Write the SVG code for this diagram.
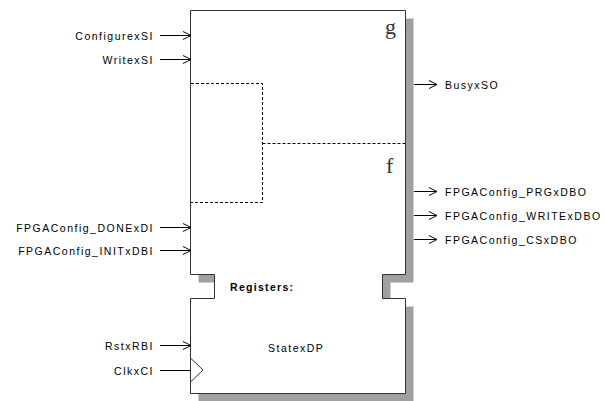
<svg xmlns="http://www.w3.org/2000/svg" width="605" height="401" viewBox="0 0 605 401">
<defs>
<style>
.lbl{font-family:"Liberation Sans",Arial,sans-serif;font-size:10.5px;letter-spacing:1.5px;fill:#000}
.bold{font-weight:bold;letter-spacing:1.3px}
.greek{font-family:"Liberation Serif","Times New Roman",serif;font-size:22px;fill:#333}
.wire{stroke:#000;stroke-width:1;fill:none}
.dash{stroke:#000;stroke-width:1;fill:none;stroke-dasharray:3,2}
</style>
<marker id="arr" viewBox="0 0 10 10" refX="9" refY="5" markerWidth="10" markerHeight="10" markerUnits="userSpaceOnUse" orient="auto">
<path d="M1,1 L9,5 L1,9" fill="none" stroke="#000" stroke-width="1"/>
</marker>
</defs>
<g id="block">
<polygon points="198.5,18.5 413.5,18.5 413.5,282.5 390.5,282.5 390.5,306.5 413.5,306.5 413.5,401.5 198.5,401.5 198.5,306.5 222.5,306.5 222.5,282.5 198.5,282.5" fill="#a0a0a0"/>
<polygon points="190.5,10.5 405.5,10.5 405.5,274.5 382.5,274.5 382.5,298.5 405.5,298.5 405.5,393.5 190.5,393.5 190.5,298.5 214.5,298.5 214.5,274.5 190.5,274.5" fill="#fff" stroke="#333" stroke-width="1"/>
<polyline class="dash" points="191,83.5 262.5,83.5 262.5,202.5 191,202.5"/>
<line class="dash" x1="262.5" y1="143.5" x2="405" y2="143.5"/>
<text class="greek" x="385" y="33.5">g</text>
<text class="greek" x="386" y="173.3">f</text>
<text class="lbl bold" x="230" y="290.7">Registers:</text>
<text class="lbl" x="268" y="352">StatexDP</text>
<polyline points="190.5,358 203,370 190.5,382" fill="none" stroke="#333" stroke-width="1"/>
</g>
<g id="connectors">
<line class="wire" x1="160" y1="35.5" x2="191" y2="35.5" marker-end="url(#arr)"/>
<line class="wire" x1="160" y1="59.5" x2="191" y2="59.5" marker-end="url(#arr)"/>
<line class="wire" x1="160" y1="227.5" x2="191" y2="227.5" marker-end="url(#arr)"/>
<line class="wire" x1="160" y1="250.5" x2="191" y2="250.5" marker-end="url(#arr)"/>
<line class="wire" x1="160" y1="345.5" x2="191" y2="345.5" marker-end="url(#arr)"/>
<line class="wire" x1="160" y1="370.5" x2="191" y2="370.5"/>
<line class="wire" x1="414" y1="84.5" x2="437" y2="84.5" marker-end="url(#arr)"/>
<line class="wire" x1="414" y1="191.5" x2="437" y2="191.5" marker-end="url(#arr)"/>
<line class="wire" x1="414" y1="215.5" x2="437" y2="215.5" marker-end="url(#arr)"/>
<line class="wire" x1="414" y1="239.5" x2="437" y2="239.5" marker-end="url(#arr)"/>
</g>
<g id="inputs">
<text class="lbl" x="154" y="39.5" text-anchor="end">ConfigurexSI</text>
<text class="lbl" x="154" y="63.5" text-anchor="end">WritexSI</text>
<text class="lbl" x="154" y="232" text-anchor="end">FPGAConfig_DONExDI</text>
<text class="lbl" x="154" y="255" text-anchor="end">FPGAConfig_INITxDBI</text>
<text class="lbl" x="154" y="349.5" text-anchor="end">RstxRBI</text>
<text class="lbl" x="154" y="374.5" text-anchor="end">ClkxCI</text>
</g>
<g id="outputs">
<text class="lbl" x="445" y="88.5">BusyxSO</text>
<text class="lbl" x="445" y="195.8">FPGAConfig_PRGxDBO</text>
<text class="lbl" x="445" y="219.5">FPGAConfig_WRITExDBO</text>
<text class="lbl" x="445" y="243.5">FPGAConfig_CSxDBO</text>
</g>
</svg>
